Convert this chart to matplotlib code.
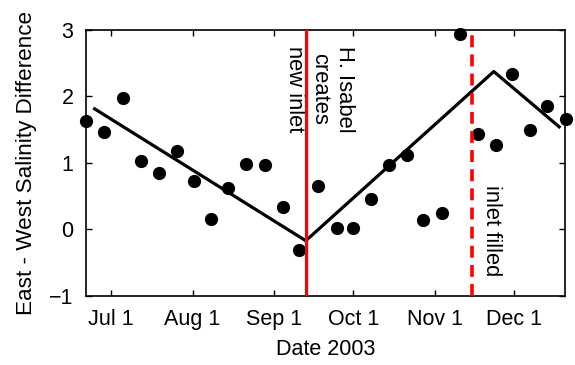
import matplotlib
matplotlib.use("Agg")
import matplotlib.pyplot as plt
import matplotlib.dates as mdates
import pandas as pd

plt.rcParams['font.family'] = ['Liberation Sans', 'DejaVu Sans']

# weekly-ish samples, East - West salinity difference
dates = pd.to_datetime([
    "2003-06-21 14:00", "2003-06-28 12:00", "2003-07-05 10:00", "2003-07-12 10:00",
    "2003-07-19 08:00", "2003-07-26 00:00", "2003-08-01 14:00", "2003-08-08 00:00",
    "2003-08-14 12:00", "2003-08-21 08:00", "2003-08-28 08:00", "2003-09-04 05:00",
    "2003-09-10 10:00", "2003-09-17 10:00", "2003-09-24 14:00", "2003-09-30 20:00",
    "2003-10-07 14:00", "2003-10-14 14:00", "2003-10-21 05:00", "2003-10-27 12:00",
    "2003-11-03 12:00", "2003-11-10 12:00", "2003-11-17 05:00", "2003-11-24 00:00",
    "2003-11-30 05:00", "2003-12-06 22:00", "2003-12-13 12:00", "2003-12-20 12:00",
])
salinity_diff = [
    1.63, 1.46, 1.97, 1.03, 0.84, 1.17, 0.72, 0.16,
    0.62, 0.98, 0.96, 0.33, -0.31, 0.65, 0.02, 0.02,
    0.45, 0.96, 1.12, 0.14, 0.25, 2.93, 1.43, 1.27,
    2.34, 1.49, 1.86, 1.66,
]

# piecewise linear fit
fit_dates = pd.to_datetime(["2003-06-24 20:00", "2003-09-12 22:00",
                            "2003-11-23 05:00", "2003-12-18 00:00"])
fit_values = [1.81, -0.17, 2.37, 1.54]

inlet_open = pd.Timestamp("2003-09-12 22:00")
inlet_filled = pd.Timestamp("2003-11-14 22:00")

tick_dates = pd.to_datetime(["2003-07-01", "2003-08-01", "2003-09-01",
                             "2003-10-01", "2003-11-01", "2003-12-01"])
tick_labels = ["Jul 1", "Aug 1", "Sep 1", "Oct 1", "Nov 1", "Dec 1"]

fig = plt.figure(figsize=(5.75, 3.65), dpi=100)
ax = fig.add_axes([0.1496, 0.189, 0.8330, 0.730])

ax.plot(fit_dates, fit_values, color='black', lw=2.3, zorder=2)
ax.plot(dates, salinity_diff, 'o', color='black', ms=8.5, zorder=3, clip_on=False)

ax.axvline(inlet_open, color='red', lw=2.4, zorder=4)
ax.axvline(inlet_filled, color='red', lw=2.6, dashes=(3.3, 2.0), zorder=4)

ax.text(inlet_open + pd.Timedelta(days=5.3), 2.76, "H. Isabel\ncreates\nnew inlet",
        rotation=-90, ha='center', va='top', fontsize=15.8, linespacing=1.25)
ax.text(inlet_filled + pd.Timedelta(days=7.6), 0.66, "inlet filled",
        rotation=-90, ha='center', va='top', fontsize=15.8)

ax.set_xlim(pd.Timestamp("2003-06-21 14:00"), pd.Timestamp("2003-12-20 05:00"))
ax.set_ylim(-1, 3)
ax.set_yticks([-1, 0, 1, 2, 3])
ax.set_yticklabels(["\u22121", "0", "1", "2", "3"])
ax.set_xticks(mdates.date2num(tick_dates))
ax.set_xticklabels(tick_labels)

ax.tick_params(direction='in', top=True, right=True, length=4, width=1,
               labelsize=15.5, pad=9)
for s in ax.spines.values():
    s.set_linewidth(1.2)

ax.set_xlabel("Date 2003", fontsize=15.5, labelpad=7)
ax.set_ylabel("East - West Salinity Difference", fontsize=16.2, labelpad=9)

fig.savefig("out.png", dpi=100)
